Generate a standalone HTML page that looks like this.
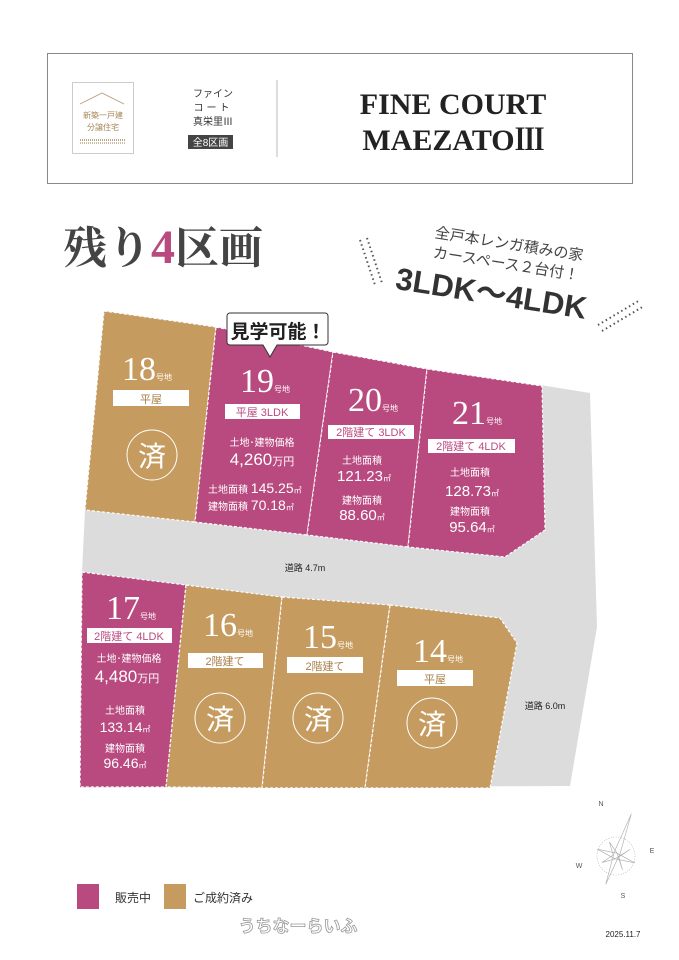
<!DOCTYPE html>
<html><head><meta charset="utf-8"><style>
html,body{margin:0;padding:0;background:#fff}
svg{display:block}
text{font-family:"Liberation Sans","Noto Sans CJK JP",sans-serif}
.serif{font-family:"Liberation Serif","Noto Serif CJK SC",serif}
</style></head><body>
<svg width="679" height="960" viewBox="0 0 679 960" xmlns="http://www.w3.org/2000/svg">
<!-- header -->
<rect x="47.5" y="53.5" width="585" height="130" fill="#fff" stroke="#888" stroke-width="1"/>
<rect x="72.5" y="82.5" width="61" height="71" fill="#fff" stroke="#ccc"/>
<polyline points="80,104 102,93 124,104" fill="none" stroke="#b59a78" stroke-width="0.8"/>
<text x="103" y="118" font-size="8" fill="#a88a5a" text-anchor="middle">新築一戸建</text>
<text x="103" y="130" font-size="8" fill="#a88a5a" text-anchor="middle">分譲住宅</text>
<line x1="80" y1="140" x2="126" y2="140" stroke="#b8a888" stroke-width="2" stroke-dasharray="1,1"/>
<line x1="80" y1="143" x2="126" y2="143" stroke="#b8a888" stroke-width="1.5" stroke-dasharray="1,1"/>
<text x="213" y="97" font-size="10" fill="#333" text-anchor="middle">ファイン</text>
<text x="213" y="111" font-size="10" fill="#333" text-anchor="middle" letter-spacing="3">コート</text>
<text x="213" y="125" font-size="10" fill="#333" text-anchor="middle">真栄里Ⅲ</text>
<rect x="188" y="135" width="45" height="14" fill="#444"/>
<text x="210.5" y="146" font-size="10" fill="#fff" text-anchor="middle">全8区画</text>
<line x1="277" y1="80" x2="277" y2="157" stroke="#bbb"/>
<text class="serif" x="453" y="114" font-size="30" font-weight="bold" fill="#222" text-anchor="middle">FINE COURT</text>
<text class="serif" x="453" y="150" font-size="30" font-weight="bold" fill="#222" text-anchor="middle">MAEZATO<tspan letter-spacing="-1">Ⅲ</tspan></text>
<!-- title -->
<text class="serif" x="63" y="263" font-size="44" fill="#444" font-weight="bold">残り<tspan fill="#b94a7f" font-size="48">4</tspan>区画</text>
<g transform="rotate(9 500 270)">
<text x="505" y="248" font-size="15" fill="#444" text-anchor="middle">全戸本レンガ積みの家</text>
<text x="505" y="268" font-size="15" fill="#444" text-anchor="middle">カースペース２台付！</text>
<text x="495" y="305" font-size="31" font-weight="bold" fill="#333" text-anchor="middle">3LDK～4LDK</text>
</g>
<g stroke="#555" stroke-width="2" stroke-dasharray="1.5,3">
<line x1="360" y1="240" x2="375" y2="285"/><line x1="367" y1="238" x2="382" y2="283"/>
<line x1="598" y1="325" x2="640" y2="300"/><line x1="602" y1="331" x2="644" y2="306"/>
</g>
<!-- road -->
<polygon points="85,510 540,385 590,393 597,627 570,786 80,788 82,572" fill="#dcdcdc"/>
<!-- lots -->
<g stroke="#fff" stroke-width="1.2" stroke-dasharray="3,2">
<polygon points="104,311 216,327 195,522 85,510" fill="#c59b5f"/>
<polygon points="216,327 333,352 307,535 195,522" fill="#b94a7f"/>
<polygon points="333,352 427,369 408,547 307,535" fill="#b94a7f"/>
<polygon points="427,369 542,386 545,530 505,557 408,547" fill="#b94a7f"/>
<polygon points="82,572 186,585 166,787 80,787" fill="#b94a7f"/>
<polygon points="186,585 282,597 262,788 166,787" fill="#c59b5f"/>
<polygon points="282,597 390,605 365,788 262,788" fill="#c59b5f"/>
<polygon points="390,605 500,618 517,643 490,788 365,788" fill="#c59b5f"/>
</g>
<!-- bubble -->
<path d="M230,313 h95 a3,3 0 0 1 3,3 v26 a3,3 0 0 1 -3,3 h-48 l-7,12 l-7,-12 h-33 a3,3 0 0 1 -3,-3 v-26 a3,3 0 0 1 3,-3z" fill="#fff" stroke="#333" stroke-width="1"/>
<text x="278" y="338" font-size="19" font-weight="bold" fill="#222" text-anchor="middle">見学可能！</text>
<g fill="#fff">
<text class="serif" x="147" y="380" font-size="34" text-anchor="middle">18<tspan font-size="8" font-family="Liberation Sans,Noto Sans CJK JP,sans-serif">号地</tspan></text>
<rect x="113" y="390" width="76" height="16"/>
<text x="151" y="403" font-size="11" fill="#a8804a" text-anchor="middle">平屋</text>
<circle cx="152" cy="455" r="25" fill="none" stroke="#fff" stroke-width="1"/>
<text x="152" y="466" font-size="28" text-anchor="middle">済</text>
<text class="serif" x="265" y="392" font-size="34" text-anchor="middle">19<tspan font-size="8" font-family="Liberation Sans,Noto Sans CJK JP,sans-serif">号地</tspan></text>
<rect x="225" y="404" width="75" height="15"/>
<text x="262" y="416" font-size="11" fill="#b94a7f" text-anchor="middle">平屋 3LDK</text>
<text x="262" y="446" font-size="10" text-anchor="middle">土地･建物価格</text>
<text x="262" y="465" font-size="17" text-anchor="middle">4,260<tspan font-size="11">万円</tspan></text>
<text x="208" y="493" font-size="10">土地面積 <tspan font-size="14">145.25</tspan><tspan font-size="8">㎡</tspan></text>
<text x="208" y="510" font-size="10">建物面積 <tspan font-size="14">70.18</tspan><tspan font-size="8">㎡</tspan></text>
<text class="serif" x="373" y="411" font-size="34" text-anchor="middle">20<tspan font-size="8" font-family="Liberation Sans,Noto Sans CJK JP,sans-serif">号地</tspan></text>
<rect x="328" y="425" width="86" height="14"/>
<text x="371" y="436" font-size="11" fill="#b94a7f" text-anchor="middle">2階建て 3LDK</text>
<text x="362" y="464" font-size="10" text-anchor="middle">土地面積</text>
<text x="364" y="481" font-size="15" text-anchor="middle">121.23<tspan font-size="8">㎡</tspan></text>
<text x="362" y="504" font-size="10" text-anchor="middle">建物面積</text>
<text x="362" y="520" font-size="15" text-anchor="middle">88.60<tspan font-size="8">㎡</tspan></text>
<text class="serif" x="477" y="424" font-size="34" text-anchor="middle">21<tspan font-size="8" font-family="Liberation Sans,Noto Sans CJK JP,sans-serif">号地</tspan></text>
<rect x="428" y="439" width="87" height="14"/>
<text x="471" y="450" font-size="11" fill="#b94a7f" text-anchor="middle">2階建て 4LDK</text>
<text x="470" y="476" font-size="10" text-anchor="middle">土地面積</text>
<text x="472" y="496" font-size="15" text-anchor="middle">128.73<tspan font-size="8">㎡</tspan></text>
<text x="470" y="515" font-size="10" text-anchor="middle">建物面積</text>
<text x="472" y="532" font-size="15" text-anchor="middle">95.64<tspan font-size="8">㎡</tspan></text>
<text class="serif" x="131" y="619" font-size="34" text-anchor="middle">17<tspan font-size="8" font-family="Liberation Sans,Noto Sans CJK JP,sans-serif">号地</tspan></text>
<rect x="87" y="628" width="85" height="15"/>
<text x="129" y="640" font-size="11" fill="#b94a7f" text-anchor="middle">2階建て 4LDK</text>
<text x="129" y="662" font-size="10" text-anchor="middle">土地･建物価格</text>
<text x="127" y="682" font-size="17" text-anchor="middle">4,480<tspan font-size="11">万円</tspan></text>
<text x="125" y="714" font-size="10" text-anchor="middle">土地面積</text>
<text x="125" y="732" font-size="14" text-anchor="middle">133.14<tspan font-size="8">㎡</tspan></text>
<text x="125" y="752" font-size="10" text-anchor="middle">建物面積</text>
<text x="125" y="768" font-size="14" text-anchor="middle">96.46<tspan font-size="8">㎡</tspan></text>
<text class="serif" x="228" y="636" font-size="34" text-anchor="middle">16<tspan font-size="8" font-family="Liberation Sans,Noto Sans CJK JP,sans-serif">号地</tspan></text>
<rect x="188" y="653" width="75" height="15"/>
<text x="225" y="665" font-size="11" fill="#a8804a" text-anchor="middle">2階建て</text>
<circle cx="220" cy="718" r="25" fill="none" stroke="#fff"/>
<text x="220" y="729" font-size="28" text-anchor="middle">済</text>
<text class="serif" x="328" y="648" font-size="34" text-anchor="middle">15<tspan font-size="8" font-family="Liberation Sans,Noto Sans CJK JP,sans-serif">号地</tspan></text>
<rect x="287" y="657" width="76" height="16"/>
<text x="325" y="670" font-size="11" fill="#a8804a" text-anchor="middle">2階建て</text>
<circle cx="318" cy="718" r="25" fill="none" stroke="#fff"/>
<text x="318" y="729" font-size="28" text-anchor="middle">済</text>
<text class="serif" x="438" y="662" font-size="34" text-anchor="middle">14<tspan font-size="8" font-family="Liberation Sans,Noto Sans CJK JP,sans-serif">号地</tspan></text>
<rect x="397" y="670" width="76" height="16"/>
<text x="435" y="683" font-size="11" fill="#a8804a" text-anchor="middle">平屋</text>
<circle cx="432" cy="723" r="25" fill="none" stroke="#fff"/>
<text x="432" y="734" font-size="28" text-anchor="middle">済</text>
</g>
<text x="305" y="571" font-size="9" fill="#222" text-anchor="middle">道路 4.7m</text>
<text x="545" y="709" font-size="9" fill="#222" text-anchor="middle">道路 6.0m</text>
<!-- compass -->
<g transform="translate(616,856) rotate(20)" stroke="#aaa" stroke-width="0.6" fill="none">
<circle r="19" stroke-dasharray="1,1.5"/>
<polygon points="0,-45 3,-4 0,30 -3,-4"/>
<polygon points="-20,0 0,-3 20,0 0,3"/>
<polygon points="-11,-11 0,-3 11,11 3,0 11,-11 0,3 -11,11 -3,0" />
</g>
<g font-family="Liberation Serif,serif" font-size="7" fill="#555" text-anchor="middle">
<text x="601" y="806">N</text><text x="652" y="853">E</text><text x="579" y="868">W</text><text x="623" y="898">S</text>
</g>
<!-- legend -->
<rect x="77" y="884" width="22" height="25" fill="#b94a7f"/>
<text x="115" y="902" font-size="12" fill="#333">販売中</text>
<rect x="164" y="884" width="22" height="25" fill="#c59b5f"/>
<text x="193" y="902" font-size="12" fill="#333">ご成約済み</text>
<text x="298" y="932" font-size="17" font-weight="bold" fill="#fff" stroke="#999" stroke-width="0.8" text-anchor="middle">うちなーらいふ</text>
<text x="623" y="937" font-size="8" fill="#222" text-anchor="middle">2025.11.7</text>
</svg>
</body></html>
